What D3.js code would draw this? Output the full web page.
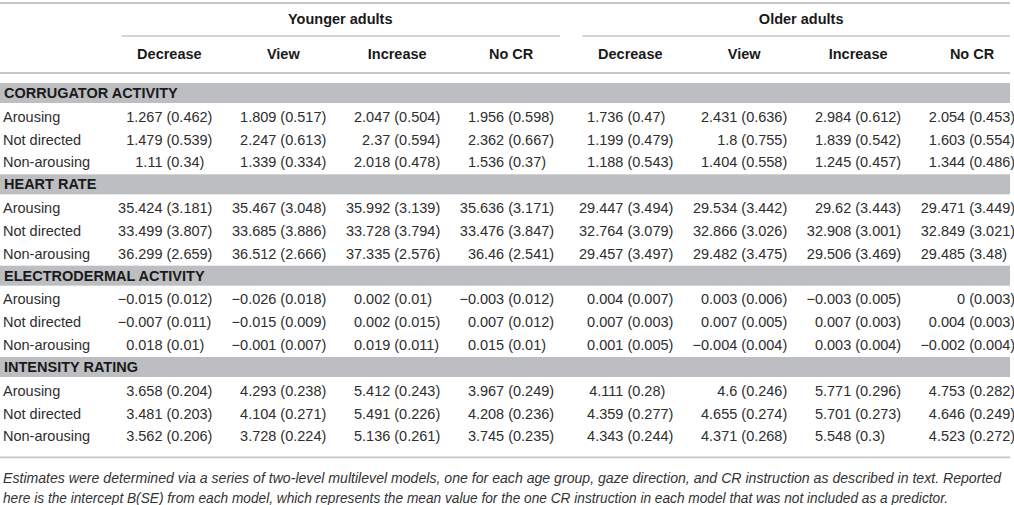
<!DOCTYPE html>
<html>
<head>
<meta charset="utf-8">
<script src="https://cdn.jsdelivr.net/npm/d3@7"></script>
<style>
  html, body { margin: 0; padding: 0; background: #fff; }
  svg { display: block; font-family: "Liberation Sans", Arial, Helvetica, sans-serif; }
</style>
</head>
<body>
<svg id="chart" width="1014" height="505"></svg>
<script>
// ---------- DATA ----------
const groups = ["Younger adults", "Older adults"];
const instructions = ["Decrease", "View", "Increase", "No CR"];
const gazes = ["Arousing", "Not directed", "Non-arousing"];
const sections = ["CORRUGATOR ACTIVITY", "HEART RATE", "ELECTRODERMAL ACTIVITY", "INTENSITY RATING"];

// rows = gazes; columns = Younger (Decrease, View, Increase, No CR), Older (Decrease, View, Increase, No CR)
const corrugatorB = [
  [1.267, 1.809, 2.047, 1.956, 1.736, 2.431, 2.984, 2.054],
  [1.479, 2.247, 2.37, 2.362, 1.199, 1.8, 1.839, 1.603],
  [1.11, 1.339, 2.018, 1.536, 1.188, 1.404, 1.245, 1.344]
];
const corrugatorSE = [
  [0.462, 0.517, 0.504, 0.598, 0.47, 0.636, 0.612, 0.453],
  [0.539, 0.613, 0.594, 0.667, 0.479, 0.755, 0.542, 0.554],
  [0.34, 0.334, 0.478, 0.37, 0.543, 0.558, 0.457, 0.486]
];
const heartRateB = [
  [35.424, 35.467, 35.992, 35.636, 29.447, 29.534, 29.62, 29.471],
  [33.499, 33.685, 33.728, 33.476, 32.764, 32.866, 32.908, 32.849],
  [36.299, 36.512, 37.335, 36.46, 29.457, 29.482, 29.506, 29.485]
];
const heartRateSE = [
  [3.181, 3.048, 3.139, 3.171, 3.494, 3.442, 3.443, 3.449],
  [3.807, 3.886, 3.794, 3.847, 3.079, 3.026, 3.001, 3.021],
  [2.659, 2.666, 2.576, 2.541, 3.497, 3.475, 3.469, 3.48]
];
const edaB = [
  [-0.015, -0.026, 0.002, -0.003, 0.004, 0.003, -0.003, 0],
  [-0.007, -0.015, 0.002, 0.007, 0.007, 0.007, 0.007, 0.004],
  [0.018, -0.001, 0.019, 0.015, 0.001, -0.004, 0.003, -0.002]
];
const edaSE = [
  [0.012, 0.018, 0.01, 0.012, 0.007, 0.006, 0.005, 0.003],
  [0.011, 0.009, 0.015, 0.012, 0.003, 0.005, 0.003, 0.003],
  [0.01, 0.007, 0.011, 0.01, 0.005, 0.004, 0.004, 0.004]
];
const intensityB = [
  [3.658, 4.293, 5.412, 3.967, 4.111, 4.6, 5.771, 4.753],
  [3.481, 4.104, 5.491, 4.208, 4.359, 4.655, 5.701, 4.646],
  [3.562, 3.728, 5.136, 3.745, 4.343, 4.371, 5.548, 4.523]
];
const intensitySE = [
  [0.204, 0.238, 0.243, 0.249, 0.28, 0.246, 0.296, 0.282],
  [0.203, 0.271, 0.226, 0.236, 0.277, 0.274, 0.273, 0.249],
  [0.206, 0.224, 0.261, 0.235, 0.244, 0.268, 0.3, 0.272]
];
const footnoteLines = [
  "Estimates were determined via a series of two-level multilevel models, one for each age group, gaze direction, and CR instruction as described in text. Reported",
  "here is the intercept B(SE) from each model, which represents the mean value for the one CR instruction in each model that was not included as a predictor."
];

const sectionB = [corrugatorB, heartRateB, edaB, intensityB];
const sectionSE = [corrugatorSE, heartRateSE, edaSE, intensitySE];

// ---------- LAYOUT ----------
const tableRight = 1010;
const FS = 14.5;
const svg = d3.select("#chart");

const fmt = v => String(v).replace("-", "\u2212");

// column scales (nested)
const xGroup = d3.scaleBand().domain(groups).range([112.4, 1029]).paddingInner(0.0115);
const xCol = d3.scaleBand().domain(instructions).range([0, xGroup.bandwidth()]);
const colCenter = (g, c) => xGroup(g) + xCol(c) + xCol.bandwidth() / 2;

// row scale
const rowIds = [];
sections.forEach((s, si) => {
  rowIds.push("S" + si);
  gazes.forEach((g, gi) => rowIds.push("S" + si + "R" + gi));
});
const rowStep = 22.83;
const yRow = d3.scaleBand().domain(rowIds).range([81.6, 81.6 + rowStep * rowIds.length]);
const yMid = id => yRow(id) + yRow.bandwidth() / 2;

const lineColor = "#c6c6c6";
const bandColor = "#bdbec1";
const textDark = "#1a1a1a";
const textData = "#2e2e2e";

// rules
function hline(x1, x2, y, w) {
  svg.append("line").attr("x1", x1).attr("x2", x2).attr("y1", y).attr("y2", y)
    .attr("stroke", lineColor).attr("stroke-width", w || 1.8);
}
hline(0, tableRight, 3);
hline(0, tableRight, 73);
hline(0, tableRight, yRow.range()[1] + 10.5);

// group headers
groups.forEach(g => {
  const x0 = xGroup(g), x1 = Math.min(xGroup(g) + xGroup.bandwidth(), tableRight + 8);
  svg.append("text").attr("x", x0 + xGroup.bandwidth() / 2).attr("y", 19).attr("dy", "0.35em")
    .attr("text-anchor", "middle").attr("font-size", FS).attr("font-weight", "bold")
    .attr("fill", textDark).text(g);
  hline(x0 + 9, x1 - 8, 36, 1.5);
  instructions.forEach(c => {
    svg.append("text").attr("x", colCenter(g, c)).attr("y", 54).attr("dy", "0.35em")
      .attr("text-anchor", "middle").attr("font-size", FS).attr("font-weight", "bold")
      .attr("fill", textDark).text(c);
  });
});

// section bands and rows
sections.forEach((s, si) => {
  const id = "S" + si;
  svg.append("rect").attr("x", 0).attr("width", tableRight)
    .attr("y", yMid(id) - 10).attr("height", 20).attr("fill", bandColor);
  svg.append("text").attr("x", 4).attr("y", yMid(id)).attr("dy", "0.35em")
    .attr("font-size", FS).attr("font-weight", "bold").attr("fill", textDark).text(s);

  gazes.forEach((gz, gi) => {
    const rid = "S" + si + "R" + gi;
    const y = yMid(rid) + 0.8;
    svg.append("text").attr("x", 3).attr("y", y).attr("dy", "0.35em")
      .attr("font-size", FS).attr("fill", textData).text(gz);

    const cells = [];
    groups.forEach((g, gIdx) => instructions.forEach((c, cIdx) => {
      const k = gIdx * instructions.length + cIdx;
      cells.push({ g, c, b: sectionB[si][gi][k], se: sectionSE[si][gi][k] });
    }));
    const row = svg.append("g");
    const cg = row.selectAll("g").data(cells).join("g")
      .attr("transform", d => `translate(${colCenter(d.g, d.c) - 6.9},${y})`);
    cg.append("text").attr("text-anchor", "end").attr("dy", "0.35em")
      .attr("font-size", FS).attr("fill", textData).text(d => fmt(d.b));
    cg.append("text").attr("x", 4).attr("text-anchor", "start").attr("dy", "0.35em")
      .attr("font-size", FS).attr("fill", textData).text(d => "(" + fmt(d.se) + ")");
  });
});

// footnote
const fnLens = [998, 945];
footnoteLines.forEach((t, i) => {
  svg.append("text").attr("x", 3).attr("y", 478 + i * 20).attr("dy", "0.35em")
    .attr("font-size", 14).attr("font-style", "italic").attr("fill", "#333")
    .attr("textLength", fnLens[i]).attr("lengthAdjust", "spacingAndGlyphs")
    .text(t);
});
</script>
</body>
</html>
